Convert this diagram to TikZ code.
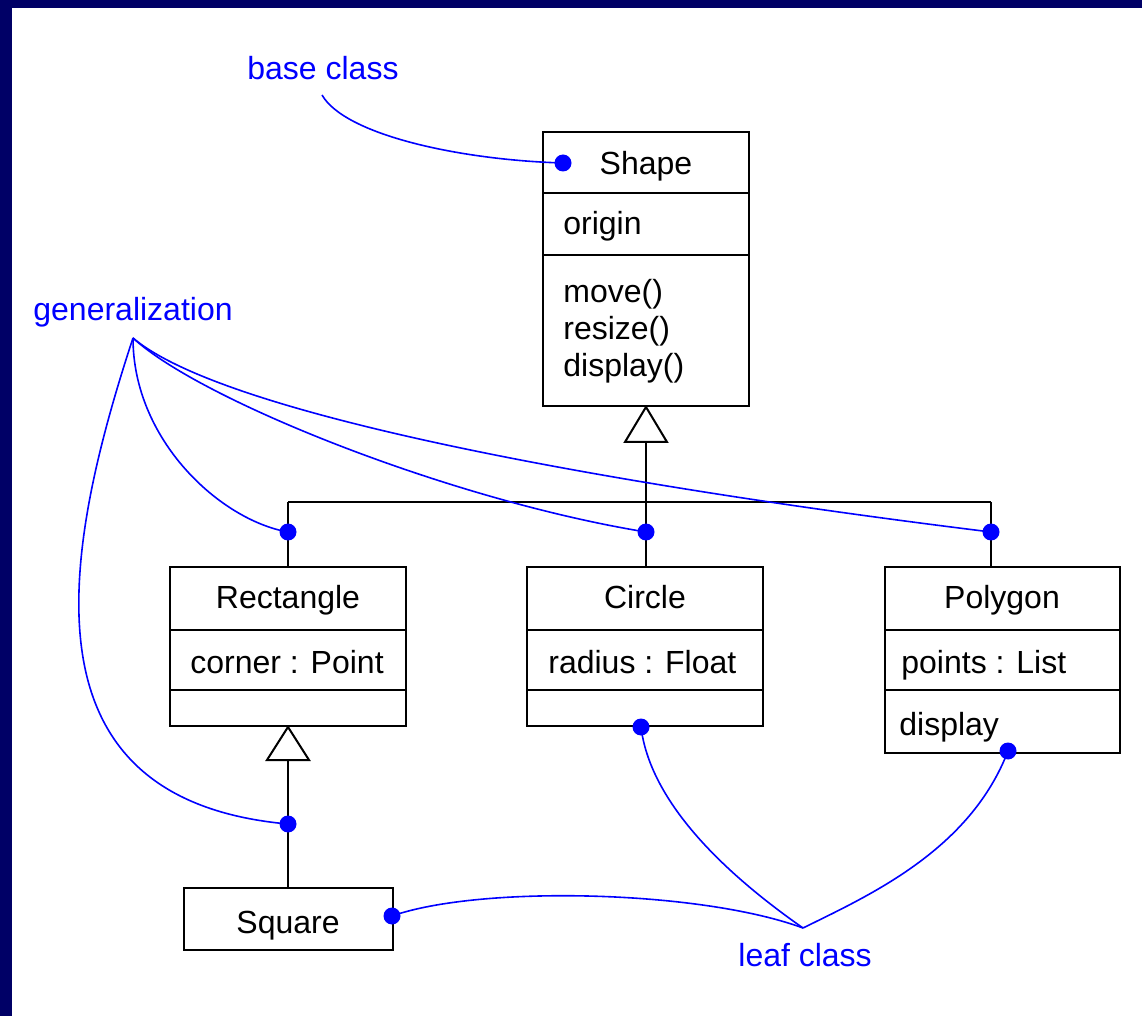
\documentclass[tikz,border=0pt]{standalone}
\usepackage{fontspec}
\setmainfont{Liberation Sans}
\definecolor{framenavy}{RGB}{0,0,102}
\definecolor{noteblue}{RGB}{0,0,255}
\begin{document}
\begin{tikzpicture}[x=0.5pt,y=-0.5pt,
  box/.style={draw=black, line width=1pt, fill=white, inner sep=0pt},
  lbl/.style={inner sep=0pt, font=\fontsize{16}{19}\selectfont, text=black},
  note/.style={inner sep=0pt, font=\fontsize{16}{19}\selectfont, text=noteblue},
  dot/.style={circle, fill=noteblue, inner sep=0pt, minimum size=8.5pt},
  link/.style={draw=noteblue, line width=0.8pt},
  edge/.style={draw=black, line width=1pt},
  hollow/.style={draw=black, line width=1pt, fill=white, line join=miter}]

% canvas and frame
\fill[white] (0,0) rectangle (1142,1016);
\fill[framenavy] (0,0) rectangle (12,1016);
\fill[framenavy] (0,0) rectangle (1142,8);
\useasboundingbox (0,0) rectangle (1142,1016);

% class boxes
\node[box, minimum width=103pt, minimum height=137pt] (shape) at (646,269) {};
\node[box, minimum width=118pt, minimum height=79.5pt] (rect) at (288,646.5) {};
\node[box, minimum width=118pt, minimum height=79.5pt] (circ) at (645,646.5) {};
\node[box, minimum width=117.5pt, minimum height=93pt] (poly) at (1002.5,660) {};
\node[box, minimum width=104.5pt, minimum height=31pt] (sq) at (288,919) {};

% compartment dividers
\draw[edge] (543,193) -- (749,193);
\draw[edge] (543,255) -- (749,255);
\draw[edge] (170,630) -- (406,630);
\draw[edge] (170,690) -- (406,690);
\draw[edge] (527,630) -- (763,630);
\draw[edge] (527,690) -- (763,690);
\draw[edge] (885,630) -- (1120,630);
\draw[edge] (885,690) -- (1120,690);

% class texts
\node[lbl, anchor=base] (tShape) at (646,175) {Shape};
\node[lbl, anchor=base west] (tOrigin) at (563,235) {origin};
\node[lbl, anchor=base west] (tMove) at (563,303) {move()};
\node[lbl, anchor=base west] (tResize) at (563,340) {resize()};
\node[lbl, anchor=base west] (tDisplay) at (563,377) {display()};
\node[lbl, anchor=base] (tRect) at (288,609) {Rectangle};
\node[lbl, anchor=base west] (tCorner) at (190,673) {corner : Point};
\node[lbl, anchor=base] (tCirc) at (645,609) {Circle};
\node[lbl, anchor=base west] (tRadius) at (548,673) {radius : Float};
\node[lbl, anchor=base] (tPoly) at (1002,608) {Polygon};
\node[lbl, anchor=base west] (tPoints) at (901,673) {points : List};
\node[lbl, anchor=base west] (tPdisp) at (899,735) {display};
\node[lbl, anchor=base] (tSq) at (288,933) {Square};

% generalization: Shape and its subclasses
\draw[hollow] (shape.south) -- (625,442) -- (667,442) -- cycle;
\coordinate (t1base) at (646,442);
\coordinate (jL) at (288,502);
\coordinate (jC) at (646,502);
\coordinate (jR) at (991,502);
\draw[edge] (t1base) -- (jC);
\draw[edge] (jL) -- (jR);
\draw[edge] (jL) -- (jL |- rect.north);
\draw[edge] (jC) -- (jC |- circ.north);
\draw[edge] (jR) -- (jR |- poly.north);

% generalization: Rectangle and Square
\draw[hollow] (rect.south) -- (267,760) -- (309,760) -- cycle;
\coordinate (t2base) at (288,760);
\draw[edge] (t2base) -- (sq.north);

% annotation labels
\node[note, anchor=base west] (bc) at (247,80) {base class};
\node[note, anchor=base west] (gl) at (33,321) {generalization};
\node[note, anchor=base west] (lc) at (738,966) {leaf class};
\coordinate (bcTail) at (322,95);
\coordinate (gen) at (133,338);
\coordinate (leaf) at (803,928);

% annotation dots
\node[dot] (dS) at (563,163) {};
\node[dot] (dR) at (288,532) {};
\node[dot] (dC) at (646,532) {};
\node[dot] (dP) at (991,532) {};
\node[dot] (dSq) at (288,824) {};
\node[dot] (dSqR) at (392,916) {};
\node[dot] (dCb) at (641,727) {};
\node[dot] (dPb) at (1008,751) {};

% annotation leaders
\draw[link] (bcTail) .. controls (345,135) and (460,160) .. (dS.center);
\draw[link] (gen) .. controls (133,440) and (220,520) .. (dR.center);
\draw[link] (gen) .. controls (200,400) and (450,500) .. (dC.center);
\draw[link] (gen) .. controls (230,420) and (650,490) .. (dP.center);
\draw[link] (gen) .. controls (60,560) and (20,800) .. (dSq.center);
\draw[link] (leaf) .. controls (700,890) and (480,885) .. (dSqR.center);
\draw[link] (leaf) .. controls (720,870) and (650,800) .. (dCb.center);
\draw[link] (leaf) .. controls (870,895) and (970,850) .. (dPb.center);
\end{tikzpicture}
\end{document}
